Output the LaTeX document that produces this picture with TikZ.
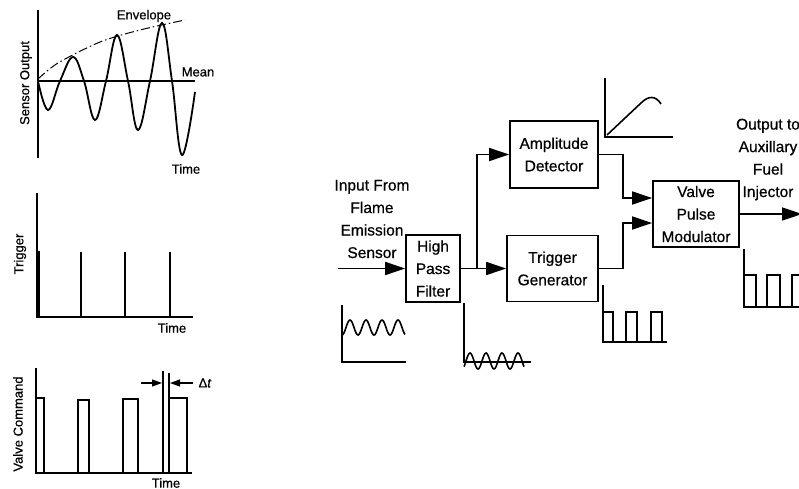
\documentclass[tikz,border=0pt]{standalone}
\usepackage{fontspec}
\setmainfont{Liberation Sans}
\newfontfamily\heavy{Liberation Sans}[FakeBold=0.6]
\usetikzlibrary{arrows.meta}
\begin{document}
\begin{tikzpicture}[x=1pt,y=-1pt,
  ln/.style={line width=1.6pt,line join=miter},
  arr/.style={ln,-{Triangle[length=20pt,width=13pt]}},
  sarr/.style={line width=1.1pt,-{Triangle[length=10pt,width=7pt]}},
  blk/.style={draw,line width=1.7pt,align=center,inner sep=0pt,font=\heavy\fontsize{15.5}{22.5}\selectfont},
  lbl/.style={align=center,inner sep=0pt,font=\heavy\fontsize{15.5}{22.5}\selectfont},
  glbl/.style={inner sep=0pt,font=\heavy\fontsize{13}{15}\selectfont},
]
\useasboundingbox (0,0) rectangle (799,489);

% ---------- left graph 1: sensor output ----------
\draw[ln] (38,10) -- (38,158);
\draw[ln] (38,81) -- (195,81);
\draw[line width=1.8pt] plot[smooth,tension=0.65] coordinates {(38,81) (48,110) (60,81) (73,57) (84,81) (95,120) (106,81) (117,35) (128,81) (138,130) (150,81) (162,23) (172,81) (182,155) (195,92)};
\draw[line width=1pt,dash pattern=on 9pt off 3pt on 1.5pt off 3pt] plot[smooth] coordinates {(38,79) (58,63) (100,42) (140,30) (185,20)};
\node[glbl,rotate=90] (so) at (26,83) {Sensor Output};
\node[glbl] (env) at (144,16) {Envelope};
\node[glbl] (mean) at (198,72) {Mean};
\node[glbl] (t1) at (186,169) {Time};

% ---------- left graph 2: trigger ----------
\draw[ln] (37,193) -- (37,317) -- (193,317);
\draw[line width=3.5pt] (38,251) -- (38,317);
\foreach \x in {81,125,170} \draw[ln] (\x,252) -- (\x,317);
\node[glbl,rotate=90] (tr) at (20,254) {Trigger};
\node[glbl] (t2) at (172,328) {Time};

% ---------- left graph 3: valve command ----------
\draw[ln] (36,368) -- (36,473) -- (192,473);
\draw[ln] (36,398) -- (44,398) -- (44,473);
\draw[ln] (78,473) -- (78,400) -- (89,400) -- (89,473);
\draw[ln] (123,473) -- (123,399) -- (138,399) -- (138,473);
\draw[ln] (169,473) -- (169,398) -- (187,398) -- (187,473);
\draw[line width=1.2pt] (163,371) -- (163,473);
\draw[line width=1.2pt] (169,373) -- (169,398);
\coordinate (da1) at (141,383); \coordinate (da2) at (162,383);
\coordinate (db1) at (193,383); \coordinate (db2) at (170,383);
\draw[sarr] (da1) -- (da2);
\draw[sarr] (db1) -- (db2);
\node[glbl] (dt) at (205,383) {Δ\textit{t}};
\node[glbl,rotate=90] (vc) at (18,424) {Valve Command};
\node[glbl] (t3) at (166,483) {Time};

% ---------- block diagram ----------
\node[lbl] (inp) at (372,219) {Input From\\Flame\\Emission\\Sensor};
\node[blk,minimum width=54pt,minimum height=67pt] (hpf) at (433,268.5) {High\\Pass\\Filter};
\node[blk,minimum width=88pt,minimum height=67pt] (amp) at (554,154.5) {Amplitude\\Detector};
\node[blk,minimum width=91pt,minimum height=66pt] (trig) at (552.5,268.5) {Trigger\\Generator};
\node[blk,minimum width=86pt,minimum height=66pt] (vpm) at (696,214) {Valve\\Pulse\\Modulator};
\node[lbl] (outl) at (768,159.5) {Output to\\Auxillary\\Fuel\\Injector};

\coordinate (in) at (338,268.5);
\coordinate (j) at (477,268.5);
\coordinate (v1) at ([yshift=16pt]vpm.west);
\coordinate (v2) at ([yshift=-9pt]vpm.west);
\coordinate (out) at (802,214);
\draw[arr] (in) -- (hpf.west);
\draw[ln] (hpf.east) -- (j);
\draw[arr] (j) |- (amp.west);
\draw[arr] (j) -- (trig.west);
\draw[arr] (amp.east) -- ++(24,0) |- (v1);
\draw[arr] (trig.east) -- ++(24,0) |- (v2);
\draw[arr] (vpm.east) -- (out);

% ---------- small waveforms ----------
% input
\draw[ln] (342,305) -- (342,362) -- (406,362);
\draw[ln] plot[domain=0:63,samples=90,smooth] ({342+\x},{327.5-7.5*sin(22.5*\x-90)});
% HPF output
\draw[ln] (464,303) -- (464,362) -- (531,362);
\draw[ln] plot[domain=0:60,samples=90,smooth] ({464+\x},{361-8*sin(22.5*\x-45)});
% amplitude detector
\draw[ln] (605,78) -- (605,137) -- (673,137);
\draw[ln] (607,135) -- (641,103) .. controls (649,95) and (656,96) .. (661,104);
% trigger generator
\draw[ln] (603,285) -- (603,342) -- (667,342);
\draw[ln] (603,312) -- (613,312) -- (613,342);
\draw[ln] (626,342) -- (626,312) -- (637,312) -- (637,342);
\draw[ln] (651,342) -- (651,312) -- (662,312) -- (662,342);
% output
\draw[ln] (744,249) -- (744,307) -- (805,307);
\draw[ln] (744,275) -- (756,275) -- (756,307);
\draw[ln] (767,307) -- (767,275) -- (780,275) -- (780,307);
\draw[ln] (792,307) -- (792,275) -- (805,275);
\end{tikzpicture}
\end{document}
